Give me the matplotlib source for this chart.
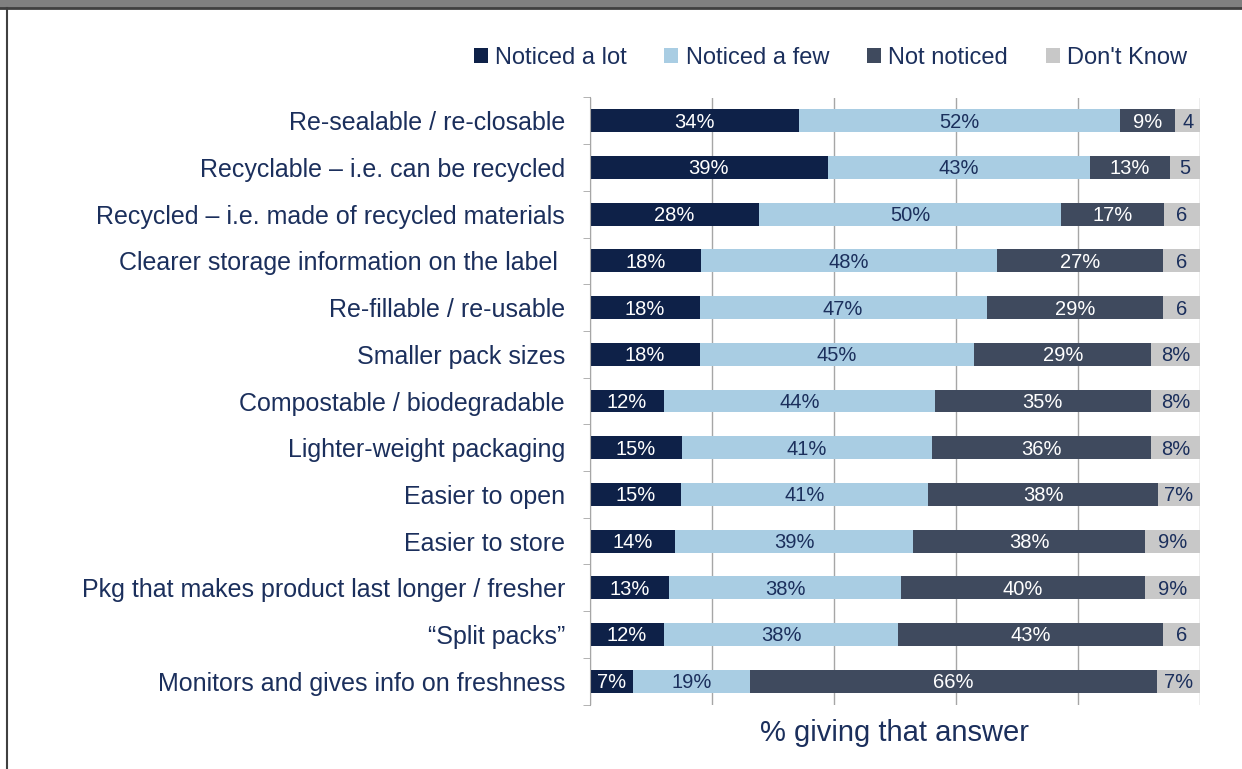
import numpy as np
import matplotlib
matplotlib.use("Agg")
import matplotlib.pyplot as plt
from matplotlib.patches import Patch, Rectangle
from matplotlib.lines import Line2D

plt.rcParams['font.family'] = ['Liberation Sans', 'DejaVu Sans']

# --- DATA ---
categories = [
    "Re-sealable / re-closable",
    "Recyclable \u2013 i.e. can be recycled",
    "Recycled \u2013 i.e. made of recycled materials",
    "Clearer storage information on the label ",
    "Re-fillable / re-usable",
    "Smaller pack sizes",
    "Compostable / biodegradable",
    "Lighter-weight packaging",
    "Easier to open",
    "Easier to store",
    "Pkg that makes product last longer / fresher",
    "\u201cSplit packs\u201d",
    "Monitors and gives info on freshness",
]
series = ["Noticed a lot", "Noticed a few", "Not noticed", "Don't Know"]
noticed_lot = [34, 39, 28, 18, 18, 18, 12, 15, 15, 14, 13, 12, 7]
noticed_few = [52, 43, 50, 48, 47, 45, 44, 41, 41, 39, 38, 38, 19]
not_noticed = [9, 13, 17, 27, 29, 29, 35, 36, 38, 38, 40, 43, 66]
dont_know = [4, 5, 6, 6, 6, 8, 8, 8, 7, 9, 9, 6, 7]
dont_know_labels = ["4", "5", "6", "6", "6", "8%", "8%", "8%", "7%", "9%", "9%", "6", "7%"]

colors = ["#0E2148", "#A9CDE3", "#3F4A5E", "#C8C8C8"]
text_colors = ["white", "#1B2F5C", "white", "#1B2F5C"]
navy = "#1B2F5C"

vals = np.array([noticed_lot, noticed_few, not_noticed, dont_know], dtype=float)
shares = vals / vals.sum(axis=0) * 100

fig = plt.figure(figsize=(12.42, 7.69), dpi=100)
ax = fig.add_axes([590 / 1242, 1 - 704.5 / 769, 610 / 1242, 607 / 769])

y = np.arange(len(categories))
left = np.zeros(len(categories))
for i in range(4):
    ax.barh(y, shares[i], left=left, height=0.49, color=colors[i], zorder=2)
    for j in range(len(categories)):
        lab = dont_know_labels[j] if i == 3 else f"{int(vals[i, j])}%"
        ax.text(left[j] + shares[i, j] / 2, y[j] + 0.03, lab, ha="center", va="center",
                color=text_colors[i], fontsize=14.5, zorder=3)
    left += shares[i]

ax.set_xlim(0, 100)
ax.set_ylim(len(categories) - 0.5, -0.5)
ax.set_xticks([0, 20, 40, 60, 80, 100])
ax.set_xticklabels([])
ax.tick_params(axis="x", length=0)
ax.grid(axis="x", color="#A6A6A6", linewidth=1, zorder=0)
ax.set_yticks(y)
ax.set_yticklabels(categories, fontsize=18, color=navy)
ax.set_yticks(np.arange(-0.5, len(categories)), minor=True)
ax.tick_params(axis="y", which="major", length=0, pad=18)
ax.tick_params(axis="y", which="minor", length=5, color="#A6A6A6")
for s in ["top", "right", "bottom"]:
    ax.spines[s].set_visible(False)
ax.spines["left"].set_color("#A6A6A6")

ax.set_xlabel("% giving that answer", fontsize=21, color=navy, labelpad=7)

handles = [Patch(facecolor=c, edgecolor="none") for c in colors]
fig.legend(handles, series, loc="upper right", bbox_to_anchor=(1208 / 1242, 1 - 26 / 769),
           ncol=4, frameon=False, fontsize=17, handlelength=0.6, handleheight=0.6,
           handletextpad=0.3, columnspacing=1.6, labelcolor=navy)

# frame decorations
fig.patches.append(Rectangle((0, 1 - 8 / 769), 1, 8 / 769, transform=fig.transFigure,
                             facecolor="#808080", edgecolor="none"))
fig.lines.append(Line2D([0, 1], [1 - 8 / 769, 1 - 8 / 769], transform=fig.transFigure,
                        color="#404040", linewidth=2))
fig.lines.append(Line2D([6.5 / 1242, 6.5 / 1242], [0, 1 - 8 / 769], transform=fig.transFigure,
                        color="#404040", linewidth=1.5))

fig.savefig("out.png", dpi=100)
